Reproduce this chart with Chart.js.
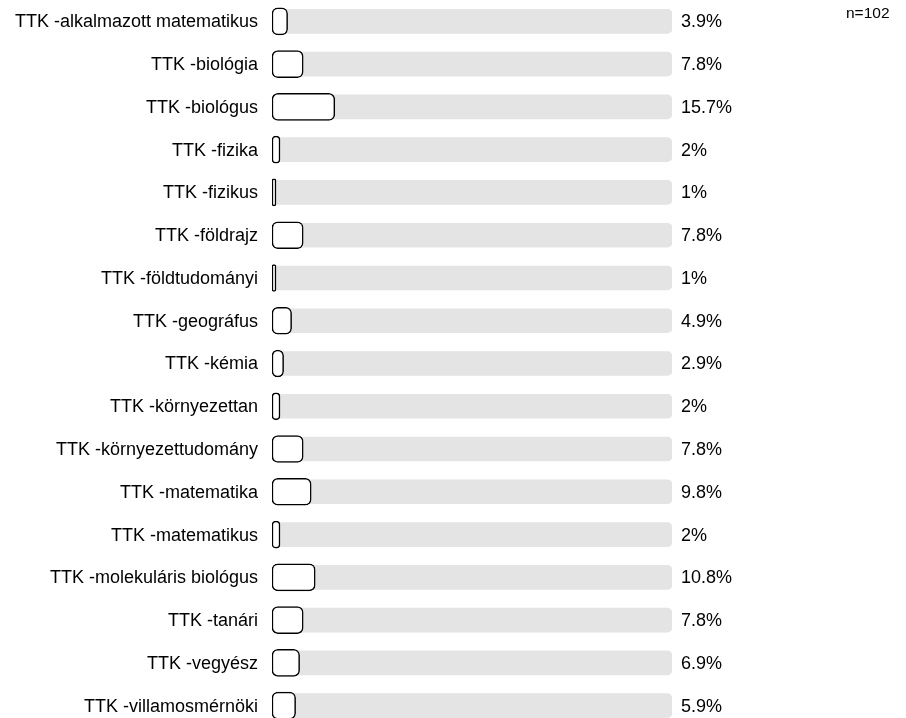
<!DOCTYPE html>
<html>
<head>
<meta charset="utf-8">
<script src="https://cdn.jsdelivr.net/npm/chart.js@4"></script>
<style>
html,body{margin:0;padding:0;background:#fff;overflow:hidden;}
#wrap{position:relative;width:906px;height:727px;}
</style>
</head>
<body>
<div id="wrap"><canvas id="c"></canvas></div>
<script>
const categories = [
  "TTK -alkalmazott matematikus",
  "TTK -biológia",
  "TTK -biológus",
  "TTK -fizika",
  "TTK -fizikus",
  "TTK -földrajz",
  "TTK -földtudományi",
  "TTK -geográfus",
  "TTK -kémia",
  "TTK -környezettan",
  "TTK -környezettudomány",
  "TTK -matematika",
  "TTK -matematikus",
  "TTK -molekuláris biológus",
  "TTK -tanári",
  "TTK -vegyész",
  "TTK -villamosmérnöki"
];
const percentages = [3.9, 7.8, 15.7, 2, 1, 7.8, 1, 4.9, 2.9, 2, 7.8, 9.8, 2, 10.8, 7.8, 6.9, 5.9];
const trackValues = categories.map(() => 100);
const sampleLabel = "n=102";

const FONT = "Arial, 'Liberation Sans', sans-serif";

const overlay = {
  id: 'overlay',
  afterDatasetsDraw(chart) {
    const ctx = chart.ctx;
    const meta = chart.getDatasetMeta(0);
    const area = chart.chartArea;
    ctx.save();
    ctx.font = "18px " + FONT;
    ctx.fillStyle = "#000";
    ctx.textBaseline = "middle";
    meta.data.forEach((bar, i) => {
      ctx.textAlign = "right";
      ctx.fillText(chart.data.labels[i], area.left - 14, bar.y + 1);
      ctx.textAlign = "left";
      ctx.fillText(percentages[i] + "%", area.right + 9, bar.y + 1);
    });
    ctx.font = "15.5px " + FONT;
    ctx.textAlign = "left";
    ctx.fillText(sampleLabel, 846, 14);
    ctx.restore();
  }
};

new Chart(document.getElementById('c'), {
  type: 'bar',
  data: {
    labels: categories,
    datasets: [
      {
        data: percentages,
        backgroundColor: '#ffffff',
        borderColor: '#000000',
        borderWidth: 1.5,
        borderRadius: 6,
        borderSkipped: false,
        barThickness: 27,
        grouped: false,
        order: 0
      },
      {
        data: trackValues,
        backgroundColor: '#e4e4e4',
        borderWidth: 0,
        borderRadius: 5,
        borderSkipped: false,
        barThickness: 24,
        grouped: false,
        order: 1
      }
    ]
  },
  options: {
    indexAxis: 'y',
    responsive: true,
    maintainAspectRatio: false,
    animation: false,
    layout: { padding: { left: 272, right: 234, top: 0, bottom: 0 } },
    plugins: { legend: { display: false }, tooltip: { enabled: false } },
    scales: {
      x: { display: false, min: 0, max: 100 },
      y: { display: false }
    }
  },
  plugins: [overlay]
});
</script>
</body>
</html>
